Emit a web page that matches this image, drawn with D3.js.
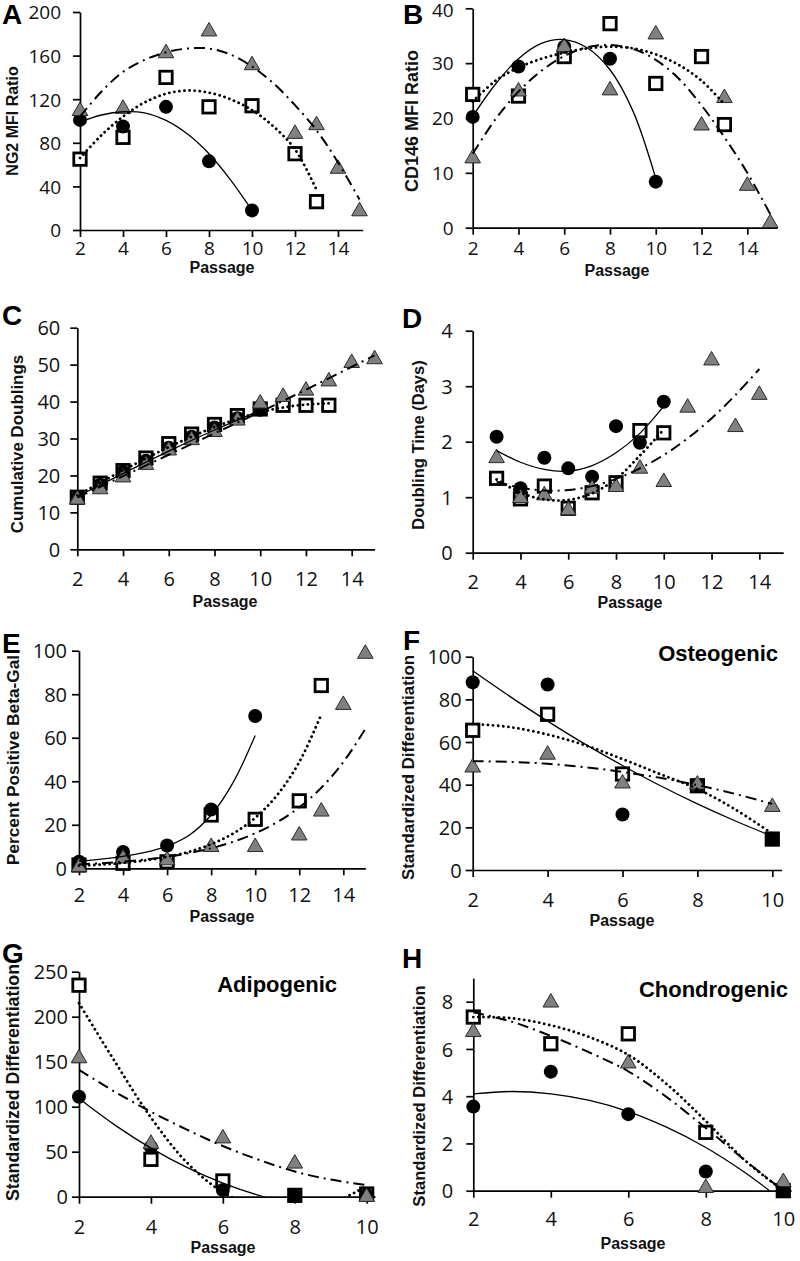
<!DOCTYPE html>
<html><head><meta charset="utf-8">
<script src="https://cdn.jsdelivr.net/npm/d3@7"></script>
<style>body{margin:0;background:#fff}svg{display:block}</style>
</head><body><svg id="c" width="800" height="1261"></svg>
<script>
// ===== DATA =====
const ticksLong = [2,4,6,8,10,12,14];
const ticksShort = [2,4,6,8,10];

// A: NG2 MFI Ratio
const A_circles = [[2,101],[4,95],[6,113],[8,63],[10,18]];
const A_squares = [[2,65],[4,85],[6,140],[8,113],[10,114],[12,70],[13,26]];
const A_triangles = [[2,111],[4,113],[6,164],[8,184],[10,153],[12,90],[13,98],[14,58],[15,19]];
const A_fitSolid = [[2,99],[3,105.5],[4,108.5],[5,107.5],[6,100.5],[7,88],[8,70],[9,46],[10,18]];
const A_fitDotted = [[2,66],[3,87],[4,104],[5,117],[6,125],[7,128],[8,126],[9,120],[10,110],[11,95],[12,74],[13,37]];
const A_fitDashDot = [[2,104],[3,127],[4,145],[5,156],[6,163],[7,166.5],[8,166.5],[9,161],[10,150],[11,134.5],[12,114.5],[13,91.5],[14,62],[15,28]];

// B: CD146 MFI Ratio
const B_circles = [[2,20.2],[4,29.4],[6,33],[8,30.8],[10,8.4]];
const B_squares = [[2,24.3],[4,24],[6,31.2],[8,37.2],[10,26.3],[12,31.2],[13,18.8]];
const B_triangles = [[2,13],[4,25.2],[6,33.3],[8,25.4],[10,35.6],[12,19],[13,24],[14,8],[15,1.2]];
const B_fitSolid = [[2,20.3],[3,26.2],[4,30.8],[5,33.6],[6,34.3],[7,32.8],[8,28.8],[9,21.3],[10,9]];
const B_fitDotted = [[2,23],[3,26.8],[4,29.2],[5,30.8],[6,31.9],[7,32.7],[8,33],[9,32.7],[10,31.6],[11,29.7],[12,26.8],[13,22.5]];
const B_fitDashDot = [[2,13.5],[3,19.8],[4,24.8],[5,28.6],[6,31.3],[7,32.9],[8,33.3],[9,32.6],[10,30.6],[11,27.2],[12,22.3],[13,16.5],[14,10],[15,2.5]];

// C: Cumulative Doublings
const C_circles = [[2,14],[3,17.5],[4,21],[5,24],[6,27.5],[7,30.5],[8,33],[9,35.5],[10,37.8]];
const C_squares = [[2,14.1],[3,17.9],[4,21.3],[5,24.7],[6,28.6],[7,31.2],[8,33.8],[9,36.2],[10,38],[11,39],[12,39],[13,39]];
const C_triangles = [[2,14],[3,16.8],[4,20],[5,23.4],[6,27.3],[7,30.1],[8,32.3],[9,35.4],[10,40],[11,41.8],[12,43.5],[13,46],[14,51],[15,52]];
const C_fitSolid = [[2,14.3],[4,20.5],[6,26.6],[8,32.3],[10,37.6]];
const C_fitDotted = [[2,14.6],[3,18],[4,21.4],[5,24.6],[6,27.7],[7,30.5],[8,33.1],[9,35.3],[10,37.1],[11,38.4],[12,39.2],[13,39.5]];
const C_fitDashDot = [[2,14],[4,19.8],[6,25.6],[8,31.4],[10,37.2],[12,43.2],[13,46.3],[14,49.4],[15,52.5]];

// D: Doubling Time (Days)
const D_circles = [[3,2.09],[4,1.16],[5,1.71],[6,1.52],[7,1.37],[8,2.28],[9,1.98],[10,2.72]];
const D_squares = [[3,1.34],[4,0.97],[5,1.2],[6,0.8],[7,1.08],[8,1.26],[9,2.2],[10,2.16]];
const D_triangles = [[3,1.74],[4,1.02],[5,1.07],[6,0.8],[7,1.19],[8,1.22],[9,1.55],[10,1.31],[11,2.65],[12,3.5],[13,2.3],[14,2.88]];
const D_fitSolid = [[3,1.84],[4,1.63],[5,1.5],[6,1.47],[7,1.57],[8,1.8],[9,2.15],[10,2.64]];
const D_fitDotted = [[3,1.32],[4,1.08],[5,0.96],[6,0.95],[7,1.07],[8,1.33],[9,1.75],[10,2.22]];
const D_fitDashDot = [[3,1.28],[4,1.17],[5,1.12],[6,1.13],[7,1.2],[8,1.33],[9,1.52],[10,1.76],[11,2.06],[12,2.42],[13,2.84],[14,3.31]];

// E: Percent Positive Beta-Gal
const E_circles = [[2,3],[4,7.5],[6,10.5],[8,27],[10,70]];
const E_squares = [[2,1.5],[4,2.3],[6,3],[8,24.5],[10,22.5],[12,31],[13,84]];
const E_triangles = [[2,1.5],[4,5.4],[6,4.6],[8,10.7],[10,10.7],[12,16],[13,27],[14,76],[15,99.5]];
const E_fitSolid = [[2,3.3],[3,4.2],[4,5.5],[5,7.3],[6,10.2],[7,15.2],[8,24.5],[9,39.5],[10,61]];
const E_fitDotted = [[2,1.2],[3,1.7],[4,2.5],[5,3.6],[6,5.3],[7,7.6],[8,11.1],[9,16],[10,23.2],[11,33.7],[12,48.8],[13,70.7]];
const E_fitDashDot = [[2,1.8],[3,2.3],[4,3],[5,4],[6,5.3],[7,7],[8,9.2],[9,12.2],[10,16.1],[11,21.2],[12,28],[13,37],[14,48.8],[15,64]];

// F: Osteogenic
const F_circles = [[2,88],[4,87],[6,26],[8,40],[10,14.5]];
const F_squares = [[2,65.5],[4,73],[6,45],[8,39.5],[10,14.5]];
const F_triangles = [[2,49],[4,55],[6,41.5],[8,41],[10,30.5]];
const F_fitSolid = [[2,93.4],[3,81.3],[4,69.8],[5,59],[6,49],[7,39.6],[8,31],[9,23.1],[10,15.8]];
const F_fitDotted = [[2,68.5],[3,67],[4,63.5],[5,58.5],[6,52],[7,45],[8,38],[9,28.5],[10,17]];
const F_fitDashDot = [[2,51],[3,50.7],[4,49.8],[5,48.2],[6,46],[7,43.2],[8,39.8],[9,35.7],[10,31]];

// G: Adipogenic
const G_circles = [[2,111],[4,55],[6,7.5],[8,1],[10,2]];
const G_squares = [[2,235],[4,41.5],[6,17.5],[8,1.5],[10,3]];
const G_triangles = [[2,156],[4,61],[6,67],[8,39],[10,2]];
const G_fitSolid = [[2,109],[3,79.5],[4,54],[5,32.5],[6,15],[7,1.5],[8,-8],[9,-13.5],[10,-15]];
const G_fitDotted = [[2,215],[3,150],[4,88],[5,38],[6,5],[7,-12],[8,-16],[9,-8],[10,12]];
const G_fitDashDot = [[2,141],[3,116.5],[4,94.4],[5,74.5],[6,56.3],[7,41],[8,28],[9,19],[10,13]];

// H: Chondrogenic
const H_circles = [[2,3.56],[4,5.04],[6,3.24],[8,0.81],[10,0]];
const H_squares = [[2,7.35],[4,6.22],[6,6.64],[8,2.47],[10,0]];
const H_triangles = [[2,6.8],[4,8.05],[6,5.47],[8,0.2],[10,0.45]];
const H_fitSolid = [[2,4.1],[3,4.2],[4,4.1],[5,3.82],[6,3.35],[7,2.68],[8,1.83],[9,0.78],[10,-0.45]];
const H_fitDotted = [[2,7.35],[3,7.3],[4,7],[5,6.5],[6,5.75],[7,4.5],[8,2.95],[9,1.3],[10,0]];
const H_fitDashDot = [[2,7.55],[3,7.15],[4,6.55],[5,5.85],[6,5.05],[7,3.95],[8,2.65],[9,1.3],[10,0]];

// ===== LAYOUT =====
const TICKFONT = "'Open Sans', sans-serif";
const BOLDFONT = "'Liberation Sans', Arial, Helvetica, sans-serif";

const panels = [
 {letter:'A', lx:2, ly:24, yTitle:'NG2 MFI Ratio', ytSize:16, ytX:12.5, ytY:121,
  xA:2, xB:14, xPx:[80,338], xEnd:15.15, xTicks:ticksLong,
  yPx:[230,12], yMax:200, yEnd:200, yStep:40, xLabBase:25, yLabGap:19, passY:273, passX:222, tickSize:19,
  circles:A_circles, squares:A_squares, triangles:A_triangles, fits:[A_fitSolid,A_fitDotted,A_fitDashDot]},
 {letter:'B', lx:403, ly:24, yTitle:'CD146 MFI Ratio', ytSize:18, ytX:411.7, ytY:121,
  xA:2, xB:14, xPx:[472.7,747.3], xEnd:15.3, xTicks:ticksLong,
  yPx:[227.7,8.3], yMax:40, yEnd:40, yStep:10, xLabBase:27, yLabGap:19, passY:276, passX:617, tickSize:19,
  circles:B_circles, squares:B_squares, triangles:B_triangles, fits:[B_fitSolid,B_fitDotted,B_fitDashDot]},
 {letter:'C', lx:2, ly:325, yTitle:'Cumulative Doublings', ytSize:16.9, ytX:16.7, ytY:444,
  xA:2, xB:14, xPx:[77.3,351.7], xEnd:15, xTicks:ticksLong,
  yPx:[549.3,327.7], yMax:60, yEnd:60, yStep:10, xLabBase:37, yLabGap:17, passY:607, passX:225, tickSize:20,
  circles:C_circles, squares:C_squares, triangles:C_triangles, fits:[C_fitSolid,C_fitDotted,C_fitDashDot]},
 {letter:'D', lx:402, ly:328, yTitle:'Doubling Time (Days)', ytSize:16.5, ytX:418, ytY:445,
  xA:2, xB:14, xPx:[472.7,759.3], xEnd:15, xTicks:ticksLong,
  yPx:[552.7,330.7], yMax:4, yEnd:4, yStep:1, xLabBase:36, yLabGap:20, passY:608, passX:630, tickSize:20,
  circles:D_circles, squares:D_squares, triangles:D_triangles, fits:[D_fitSolid,D_fitDotted,D_fitDashDot]},
 {letter:'E', lx:2, ly:653, yTitle:'Percent Positive Beta-Gal', ytSize:17.3, ytX:12.5, ytY:760,
  xA:2, xB:14, xPx:[79,343.3], xEnd:15, xTicks:ticksLong,
  yPx:[868.3,650.7], yMax:100, yEnd:100, yStep:20, xLabBase:34, yLabGap:12, passY:922, passX:222, tickSize:20,
  circles:E_circles, squares:E_squares, triangles:E_triangles, fits:[E_fitSolid,E_fitDotted,E_fitDashDot]},
 {letter:'F', lx:403, ly:650, yTitle:'Standardized Differentiation', ytSize:16.9, ytX:407.5, ytY:767.5,
  title:'Osteogenic', tX:778, tY:661,
  xA:2, xB:10, xPx:[472.7,772.3], xEnd:10.25, xTicks:ticksShort,
  yPx:[870,656.7], yMax:100, yEnd:100, yStep:20, xLabBase:37, yLabGap:11, passY:926, passX:622, tickSize:20,
  circles:F_circles, squares:F_squares, triangles:F_triangles, fits:[F_fitSolid,F_fitDotted,F_fitDashDot]},
 {letter:'G', lx:2, ly:963, yTitle:'Standardized Differentiation', ytSize:17.8, ytX:12.5, ytY:1082.5,
  title:'Adipogenic', tX:337, tY:992,
  xA:2, xB:10, xPx:[79,366.7], xEnd:10.23, xTicks:ticksShort,
  yPx:[1196.7,971.7], yMax:250, yEnd:250, yStep:50, xLabBase:37, yLabGap:11, passY:1253, passX:223, tickSize:20,
  circles:G_circles, squares:G_squares, triangles:G_triangles, fits:[G_fitSolid,G_fitDotted,G_fitDashDot]},
 {letter:'H', lx:402, ly:968, yTitle:'Standardized Differentiation', ytSize:16.6, ytX:419.5, ytY:1096,
  title:'Chondrogenic', tX:788, tY:997,
  xA:2, xB:10, xPx:[473.3,783.3], xEnd:10.2, xTicks:ticksShort,
  yPx:[1190.7,1001.7], yMax:8, yEnd:9, yStep:2, yRefVal:8, xLabBase:35, yLabGap:20, passY:1249, passX:633, tickSize:20,
  circles:H_circles, squares:H_squares, triangles:H_triangles, fits:[H_fitSolid,H_fitDotted,H_fitDashDot]}
];

const svg = d3.select('#c');
const defs = svg.append('defs');
const fitStyles = [
  {dash:null, width:1.3, cap:'butt'},
  {dash:'0.1 5', width:2.8, cap:'round'},
  {dash:'11 5 2 5', width:2, cap:'butt'}
];

panels.forEach((p, i) => {
  const g = svg.append('g');
  const xs0 = d3.scaleLinear().domain([p.xA, p.xB]).range(p.xPx);
  const xs = d3.scaleLinear().domain([p.xA, p.xEnd]).range([xs0(p.xA), xs0(p.xEnd)]);
  const yRefVal = p.yRefVal || p.yMax;
  const ys0 = d3.scaleLinear().domain([0, yRefVal]).range(p.yPx);
  const ys = d3.scaleLinear().domain([0, p.yEnd]).range([ys0(0), ys0(p.yEnd)]);

  const yTicks = d3.range(0, p.yMax + 1e-9, p.yStep);
  const xAxisG = g.append('g').attr('transform', `translate(0,${ys(0)})`)
    .call(d3.axisBottom(xs).tickValues(p.xTicks).tickSize(7).tickSizeOuter(0).tickFormat(d3.format('d')));
  const yAxisG = g.append('g').attr('transform', `translate(${xs(p.xA)},0)`)
    .call(d3.axisLeft(ys).tickValues(yTicks).tickSize(7).tickSizeOuter(0).tickFormat(d3.format('d')));
  [xAxisG, yAxisG].forEach(a => {
    a.select('.domain').attr('stroke', '#000').attr('stroke-width', 1.7);
    a.selectAll('.tick line').attr('stroke', '#000').attr('stroke-width', 1.7);
    a.selectAll('.tick text').attr('fill', '#111').style('font-family', TICKFONT).style('font-size', p.tickSize + 'px');
  });
  xAxisG.selectAll('.tick text').attr('y', p.xLabBase).attr('dy', null);
  yAxisG.selectAll('.tick text').attr('x', -p.yLabGap)
    .attr('dy', d => (ys(d) < 12 ? '0.45em' : '0.36em'));

  const cid = 'clip' + i;
  defs.append('clipPath').attr('id', cid).append('rect')
    .attr('x', xs(p.xA) - 2).attr('y', ys(p.yEnd) - 10)
    .attr('width', xs(p.xEnd) - xs(p.xA) + 6).attr('height', ys(0) - ys(p.yEnd) + 10);

  g.append('g').selectAll('rect').data(p.squares).join('rect')
    .attr('x', d => xs(d[0]) - 6.2).attr('y', d => ys(d[1]) - 6.2)
    .attr('width', 12.4).attr('height', 12.4)
    .attr('fill', '#fff').attr('stroke', '#000').attr('stroke-width', 2.8);
  g.append('g').selectAll('circle').data(p.circles).join('circle')
    .attr('cx', d => xs(d[0])).attr('cy', d => ys(d[1])).attr('r', 7)
    .attr('fill', '#000');
  g.append('g').selectAll('path').data(p.triangles).join('path')
    .attr('transform', d => `translate(${xs(d[0])},${ys(d[1])})`)
    .attr('d', 'M0,-7L7.8,6.5L-7.8,6.5Z')
    .attr('fill', '#808080').attr('stroke', '#2a2a2a').attr('stroke-width', 1);

  const line = d3.line().x(d => xs(d[0])).y(d => ys(d[1])).curve(d3.curveCatmullRom.alpha(0.5));
  const lg = g.append('g').attr('clip-path', `url(#${cid})`);
  p.fits.forEach((f, k) => {
    const st = fitStyles[k];
    lg.append('path').datum(f).attr('d', line)
      .attr('fill', 'none').attr('stroke', '#000')
      .attr('stroke-width', st.width).attr('stroke-linecap', st.cap)
      .attr('stroke-dasharray', st.dash);
  });

  g.append('text').attr('x', p.lx).attr('y', p.ly).text(p.letter)
    .style('font-family', BOLDFONT).style('font-weight', 'bold').style('font-size', '28px').attr('fill', '#000');
  g.append('text').attr('transform', `translate(${p.ytX},${p.ytY}) rotate(-90)`)
    .attr('text-anchor', 'middle').attr('dy', '0.36em').text(p.yTitle)
    .style('font-family', BOLDFONT).style('font-weight', 'bold').style('font-size', p.ytSize + 'px').attr('fill', '#111');
  g.append('text').attr('x', p.passX).attr('y', p.passY).attr('text-anchor', 'middle').text('Passage')
    .style('font-family', BOLDFONT).style('font-weight', 'bold').style('font-size', '16px').attr('fill', '#111');
  if (p.title) {
    g.append('text').attr('x', p.tX).attr('y', p.tY).attr('text-anchor', 'end').text(p.title)
      .style('font-family', BOLDFONT).style('font-weight', 'bold').style('font-size', '22px').attr('fill', '#000');
  }
});
</script>
</body></html>
